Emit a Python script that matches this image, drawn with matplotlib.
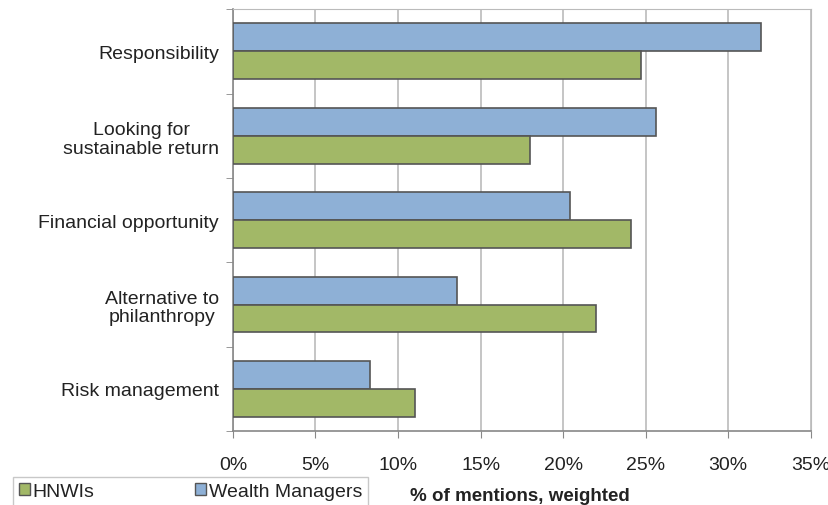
import matplotlib.pyplot as plt
import numpy as np
from matplotlib.patches import Patch

plt.rcParams['font.family'] = ['Liberation Sans', 'DejaVu Sans']
plt.rcParams['text.color'] = '#222222'
plt.rcParams['xtick.labelcolor'] = '#222222'
plt.rcParams['ytick.labelcolor'] = '#222222'

categories = ['Responsibility', 'Looking for\nsustainable return', 'Financial opportunity',
              'Alternative to\nphilanthropy', 'Risk management']
wealth_managers = [32.0, 25.6, 20.4, 13.6, 8.3]
hnwis = [24.7, 18.0, 24.1, 22.0, 11.0]
xticks = [0, 5, 10, 15, 20, 25, 30, 35]

blue = '#8EB0D6'
green = '#A2B867'
edge = '#555555'

fig = plt.figure(figsize=(8.29, 5.06), dpi=100)
ax = fig.add_axes([0.281, 0.146, 0.697, 0.834])

y = np.arange(len(categories))
h = 0.33
ax.barh(y - h / 2, wealth_managers, height=h, color=blue, edgecolor=edge, linewidth=1.2, zorder=3)
ax.barh(y + h / 2, hnwis, height=h, color=green, edgecolor=edge, linewidth=1.2, zorder=3)

ax.set_ylim(len(categories) - 0.5, -0.5)
ax.set_xlim(0, 35)
ax.set_xticks(xticks)
ax.set_xticklabels([f'{v}%' for v in xticks], fontsize=14)
ax.set_yticks(y)
ax.set_yticklabels(categories, fontsize=14, multialignment='center', linespacing=1.15)
ax.set_yticks(np.arange(len(categories) + 1) - 0.5, minor=True)
ax.tick_params(axis='y', which='major', length=0, pad=10)
ax.tick_params(axis='y', which='minor', length=5, color='#888888')
ax.tick_params(axis='x', length=5, color='#888888', pad=13)

ax.grid(axis='x', color='#BBBBBB', linewidth=1.2, zorder=0)
for side in ['top', 'right']:
    ax.spines[side].set_color('#BBBBBB')
for side in ['left', 'bottom']:
    ax.spines[side].set_color('#888888')
    ax.spines[side].set_linewidth(1.2)

handles = [Patch(facecolor=green, edgecolor=edge, label='HNWIs'),
           Patch(facecolor=blue, edgecolor=edge, label='Wealth Managers')]
leg = fig.legend(handles=handles, loc='lower left', bbox_to_anchor=(0.004, -0.021), ncol=2,
                 fontsize=14, frameon=True, fancybox=False, handlelength=0.55, handleheight=0.55,
                 handletextpad=0.15, columnspacing=5.2, borderpad=0.3)
leg.get_frame().set_edgecolor('#BBBBBB')
leg.get_frame().set_linewidth(1.0)

fig.text(0.494, 0.019, '% of mentions, weighted', fontsize=13.5, fontweight='bold', ha='left', va='center')

fig.savefig('out.png', dpi=100)
